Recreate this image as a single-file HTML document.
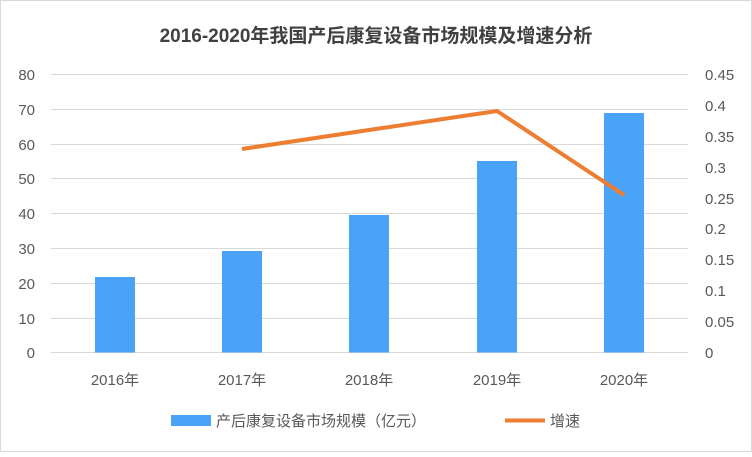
<!DOCTYPE html>
<html><head><meta charset="utf-8"><style>
body{margin:0;background:#fff;}
</style></head><body>
<svg width="752" height="452" xmlns="http://www.w3.org/2000/svg" font-family="'Liberation Sans','Noto Sans CJK SC',sans-serif">
<rect x="0.5" y="0.5" width="751" height="451" fill="#fff" stroke="#d9d9d9"/>
<text x="376" y="42" text-anchor="middle" font-size="19" font-weight="bold" fill="#404040">2016-2020年我国产后康复设备市场规模及增速分析</text>
<g stroke="#d9d9d9" stroke-width="1">
<line x1="51" x2="688" y1="74.5" y2="74.5"/>
<line x1="51" x2="688" y1="109.5" y2="109.5"/>
<line x1="51" x2="688" y1="144.5" y2="144.5"/>
<line x1="51" x2="688" y1="178.5" y2="178.5"/>
<line x1="51" x2="688" y1="213.5" y2="213.5"/>
<line x1="51" x2="688" y1="248.5" y2="248.5"/>
<line x1="51" x2="688" y1="283.5" y2="283.5"/>
<line x1="51" x2="688" y1="318.5" y2="318.5"/>
<line x1="51" x2="688" y1="352.5" y2="352.5"/>
</g>
<g font-size="15" fill="#595959" text-anchor="end">
<text x="35" y="80">80</text><text x="35" y="115">70</text><text x="35" y="150">60</text><text x="35" y="184">50</text><text x="35" y="219">40</text><text x="35" y="254">30</text><text x="35" y="289">20</text><text x="35" y="324">10</text><text x="35" y="358">0</text>
</g>
<g font-size="15" fill="#595959" text-anchor="start">
<text x="705" y="80">0.45</text>
<text x="705" y="111">0.4</text>
<text x="705" y="142">0.35</text>
<text x="705" y="173">0.3</text>
<text x="705" y="204">0.25</text>
<text x="705" y="234">0.2</text>
<text x="705" y="265">0.15</text>
<text x="705" y="296">0.1</text>
<text x="705" y="327">0.05</text>
<text x="705" y="358">0</text>
</g>
<g fill="#4aa3f7">
<rect x="95" y="277" width="40" height="75.5"/>
<rect x="222" y="251" width="40" height="101.5"/>
<rect x="349" y="215" width="40" height="137.5"/>
<rect x="477" y="161" width="40" height="191.5"/>
<rect x="604" y="113" width="40" height="239.5"/>
</g>
<polyline points="242,149 369,130 497,111 624,195" fill="none" stroke="#ed7d31" stroke-width="4" stroke-linejoin="round"/>
<g font-size="15" fill="#595959" text-anchor="middle">
<text x="115" y="385">2016年</text><text x="242" y="385">2017年</text><text x="369" y="385">2018年</text><text x="497" y="385">2019年</text><text x="624" y="385">2020年</text>
</g>
<rect x="171" y="415" width="40" height="11" fill="#4aa3f7"/>
<text x="216" y="426" font-size="15" fill="#595959">产后康复设备市场规模（亿元）</text>
<line x1="505" x2="545" y1="420.5" y2="420.5" stroke="#ed7d31" stroke-width="4"/>
<text x="550" y="426" font-size="15" fill="#595959">增速</text>
</svg>
</body></html>
